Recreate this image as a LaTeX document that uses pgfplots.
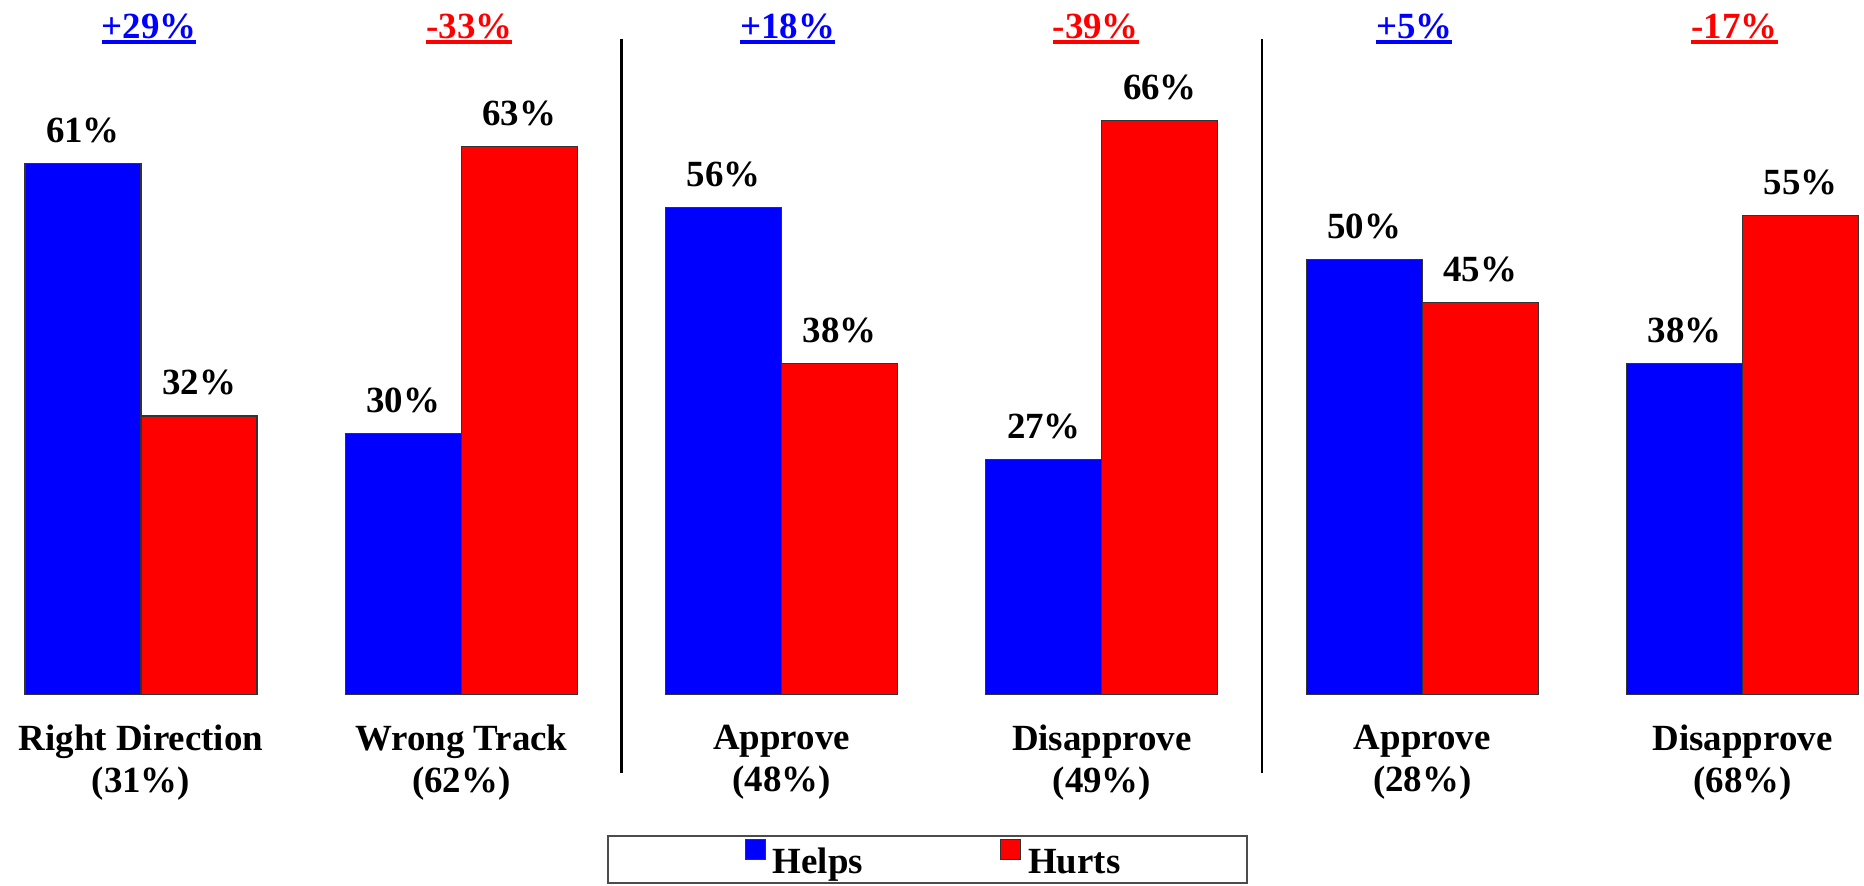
\documentclass[border=0pt]{standalone}
\usepackage{fontspec}
\setmainfont{Liberation Serif}
\usepackage{pgfplots}
\pgfplotsset{compat=1.18}
\definecolor{hblue}{RGB}{0,0,255}
\definecolor{hred}{RGB}{255,0,0}
\newcommand\ul[1]{\setbox0\hbox{#1}\rlap{\rule[-0.6mm]{\wd0}{0.4mm}}\box0}
\newcommand\lblfont{\fontsize{10.5}{12}\selectfont\bfseries}
\begin{document}
\begin{tikzpicture}
\begin{axis}[
  scale only axis, width=186.4mm, height=69.43mm,
  xmin=-0.4402, xmax=5.3793, ymin=0, ymax=79.83,
  clip=false,
  /pgf/number format/assume math mode=true,
  axis line style={draw=none}, tick style={draw=none},
  ytick=\empty, xtick={0,1,2,3,4,5},
  xticklabels={{Right Direction\\(31\%)},{Wrong Track\\(62\%)},{Approve\\(48\%)},{Disapprove\\(49\%)},{Approve\\(28\%)},{Disapprove\\(68\%)}},
  xticklabel style={align=center, font=\lblfont, anchor=north, yshift=-1.8mm},
  legend style={at={(axis cs:1.454,-16.18)}, anchor=north west, draw=black!70, line width=0.2mm,
    font=\lblfont, legend columns=2, inner xsep=12mm, inner ysep=0.3mm,
    nodes={inner ysep=0pt, text height=3.2mm, text depth=0.6mm},
    /tikz/every even column/.append style={column sep=11.3mm}},
  sq legend/.style={legend image code/.code={\path (0mm,0mm); \draw[##1, line width=0.3pt] (1.7mm,0.1mm) rectangle (3.7mm,2.1mm);}},
  barlbl/.style={nodes near coords={\pgfmathprintnumber{\pgfplotspointmeta}\%},
    every node near coord/.append style={anchor=base, yshift=2.1mm, font=\lblfont, text=black}},
]
\addplot[ybar, bar width=0.3622, bar shift=0, fill=hblue, draw=black!80, line width=0.3pt, barlbl, sq legend]
  coordinates {(-0.1811,61) (0.8189,30) (1.8189,56) (2.8189,27) (3.8189,50) (4.8189,38)};
\addlegendentry{Helps}
\addplot[ybar, bar width=0.3622, bar shift=0, fill=hred, draw=black!80, line width=0.3pt, barlbl, sq legend]
  coordinates {(0.1811,32) (1.1811,63) (2.1811,38) (3.1811,66) (4.1811,45) (5.1811,55)};
\addlegendentry{Hurts}
\addplot[black, line width=0.6pt, mark=none, forget plot] coordinates {(1.5,-9.05) (1.5,75.35)};
\addplot[black, line width=0.6pt, mark=none, forget plot] coordinates {(3.5,-9.05) (3.5,75.35)};
\node[anchor=base, text=hblue, font=\lblfont] at (axis cs:0.025,75.43) {\ul{+29\%}};
\node[anchor=base, text=hred, font=\lblfont] at (axis cs:1.025,75.43) {\ul{-33\%}};
\node[anchor=base, text=hblue, font=\lblfont] at (axis cs:2.019,75.43) {\ul{+18\%}};
\node[anchor=base, text=hred, font=\lblfont] at (axis cs:2.981,75.43) {\ul{-39\%}};
\node[anchor=base, text=hblue, font=\lblfont] at (axis cs:3.975,75.43) {\ul{+5\%}};
\node[anchor=base, text=hred, font=\lblfont] at (axis cs:4.975,75.43) {\ul{-17\%}};
\path (axis cs:-0.4402,-22.04) rectangle (axis cs:5.3793,79.83);
\end{axis}
\end{tikzpicture}
\end{document}
